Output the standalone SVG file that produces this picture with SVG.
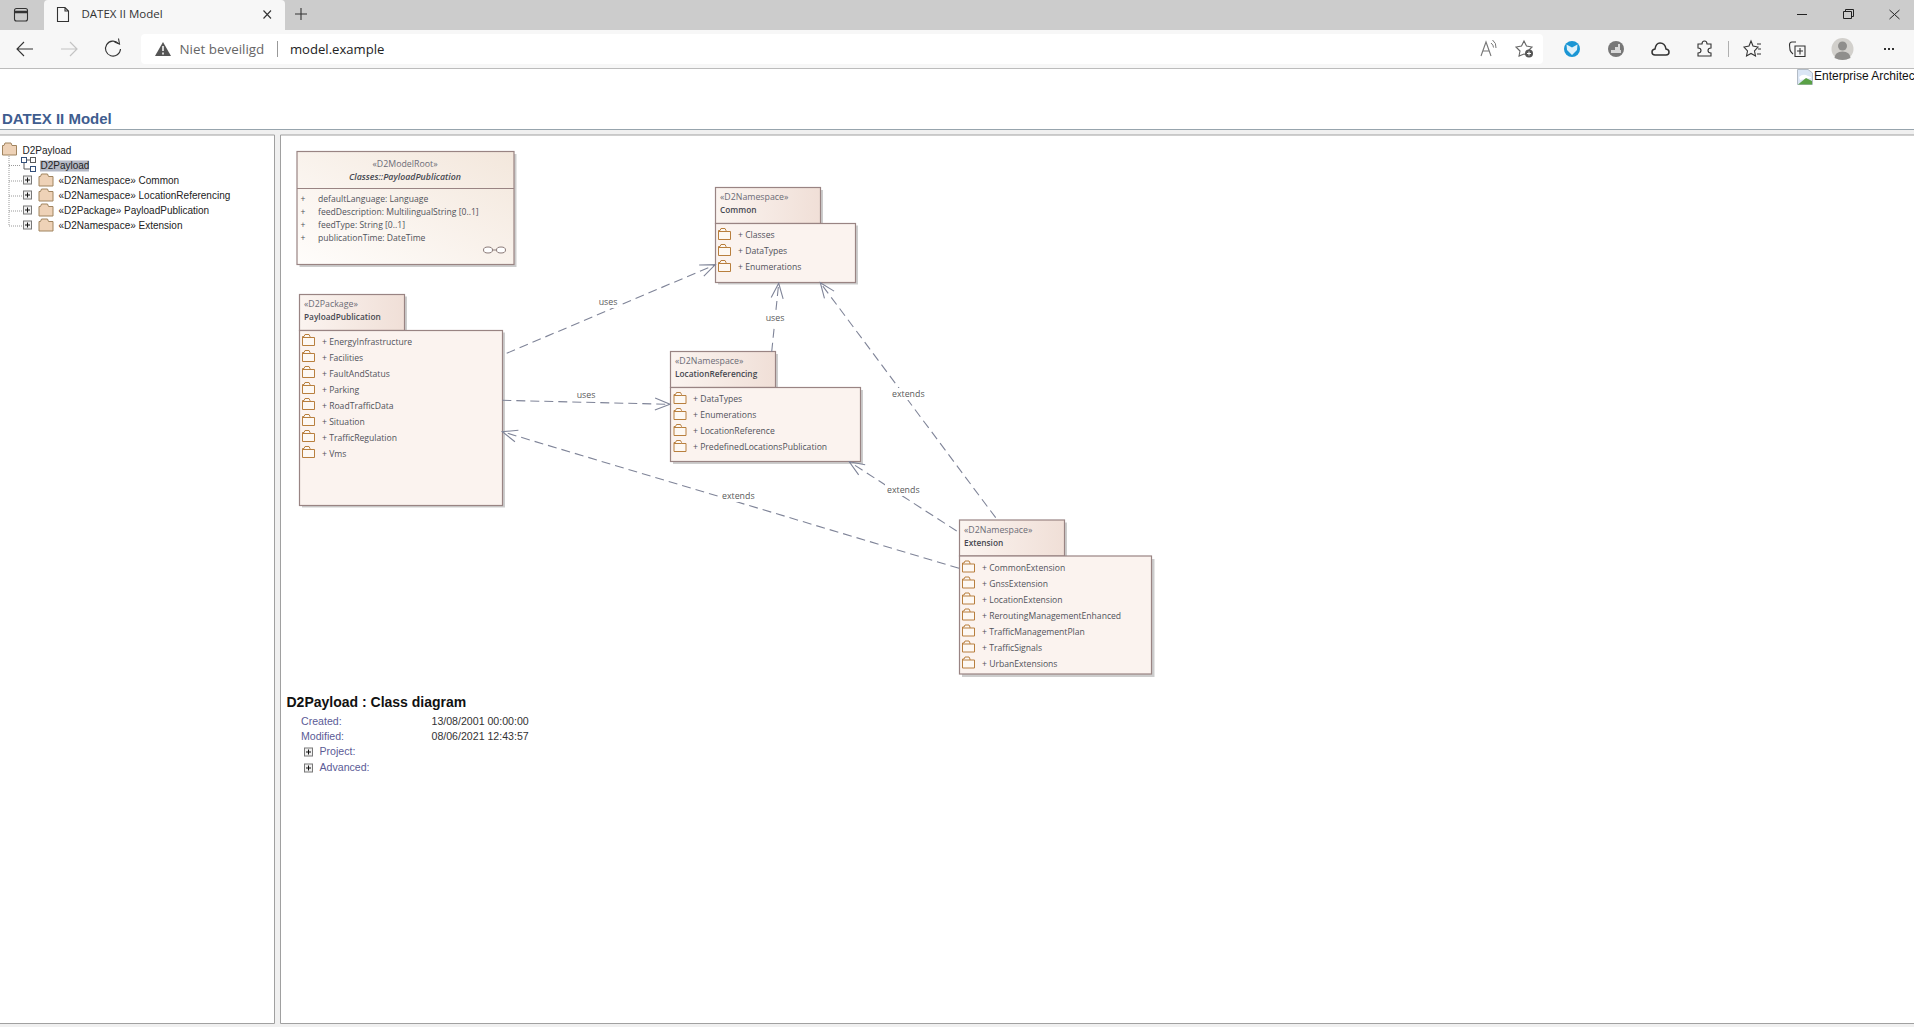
<svg xmlns="http://www.w3.org/2000/svg" xmlns:xlink="http://www.w3.org/1999/xlink" width="1914" height="1027" viewBox="0 0 1914 1027">
<style>
text{font-family:"Open Sans","Noto Sans","Liberation Sans",sans-serif;dominant-baseline:central}
.ea{font-size:8.6px;fill:#50525a}
.eab{font-size:8.3px;fill:#464850;font-weight:600}
.st{font-size:8.8px;fill:#6c6c76}
.lab{font-size:8.8px;fill:#5a5a5a}
.ar{font-family:"Liberation Sans",Arial,sans-serif}
.tree{font-family:"Liberation Sans",Arial,sans-serif;font-size:10px;fill:#222}
.meta{font-family:"Liberation Sans",Arial,sans-serif;font-size:10.6px;fill:#5b5b96}
.val{font-family:"Liberation Sans",Arial,sans-serif;font-size:10.6px;fill:#333}
.bd{stroke:#998483;stroke-width:1.2}
.sh{fill:#cdcdcd}
.body{fill:#fbf3ef}
.tab{fill:url(#gt)}
.cn{fill:none;stroke:#7f8498;stroke-width:1.1;stroke-dasharray:9 5;marker-end:url(#op)}
.ic{fill:none;stroke:#333;stroke-width:1.1}
</style>
<defs>
<linearGradient id="gt" x1="0" y1="0" x2="1" y2="0"><stop offset="0" stop-color="#fbf4f0"/><stop offset="1" stop-color="#f0dfd7"/></linearGradient>
<linearGradient id="gc" x1="0" y1="1" x2="1" y2="0"><stop offset="0" stop-color="#fffdfb"/><stop offset="1" stop-color="#f3e7dc"/></linearGradient>
<marker id="op" markerUnits="userSpaceOnUse" markerWidth="20" markerHeight="16" refX="16" refY="7" orient="auto"><path d="M1,1 L16,7 L1,13" fill="none" stroke="#7f8498" stroke-width="1.1"/></marker>
<g id="f"><path d="M0.5,11.5 V2.5 H2 L3,0.5 H7 L8,2.5 V3.5 H12.5 V11.5 Z M0.5,3.5 H8" fill="#fdf8f3" stroke="#b87f3e" stroke-width="1"/></g>
<g id="tf"><path d="M0.5,12.5 V3 H2 L3,0.5 H9 L10,3 H14.500 V12.5 Z" fill="#eed2b7" stroke="#a0845f" stroke-width="1"/></g>
<g id="px"><rect x="0.5" y="0.5" width="8" height="8" fill="#f0f0f0" stroke="#777"/><path d="M2,4.5 H7 M4.5,2 V7" stroke="#111"/></g>
</defs>

<g id="chrome">
<rect width="1914" height="1027" fill="#fff"/>
<rect width="1914" height="30" fill="#cccccc"/>
<rect x="0" y="30" width="1914" height="38" fill="#f7f7f7"/>
<rect y="68" width="1914" height="1" fill="#bcbcbc"/>
<path d="M44,30 V4 Q44,0 48,0 H281 Q285,0 285,4 V30 Z" fill="#f7f7f7"/>
<rect x="14.500" y="8.500" width="13" height="12.500" rx="2" class="ic"/><path d="M15,12 H27" class="ic" style="stroke-width:2.500"/>
<path d="M57.500,7.500 H65 L68.500,11 V21.500 H57.500 Z M65,7.500 V11 H68.500" class="ic"/>
<text x="81.500" y="13.500" style="font-size:11.500px;fill:#333">DATEX II Model</text>
<path d="M263.500,10.500 L271,18.500 M271,10.500 L263.500,18.500" class="ic"/>
<path d="M301,8 V20 M295,14 H307" class="ic"/>
<path d="M1797,14.500 H1807" stroke="#222" fill="none"/>
<path d="M1843.500,11.500 H1851.500 V18.500 H1843.500 Z M1845.500,11 V9.500 H1853.500 V16.500 H1852" fill="none" stroke="#222"/>
<path d="M1889.500,10 L1899.500,19 M1899.500,10 L1889.500,19" fill="none" stroke="#222"/>
<path d="M33,49 H17 M24,42 L17,49 L24,56" class="ic"/>
<path d="M77,49 H61 M70,42 L77,49 L70,56" fill="none" stroke="#c4c4c4" stroke-width="1.200"/>
<path d="M118.500,43.500 A7.500,7.500 0 1 0 120.500,49" class="ic"/><path d="M114.500,42 L119.500,44 L118.500,38.500" class="ic"/>
<rect x="141" y="34" width="1402" height="30" rx="4" fill="#fff"/>
<path d="M163,42 L171,56 H155 Z" fill="#555"/><path d="M163,46 V51 M163,52.500 V54.500" stroke="#fff" stroke-width="1.500"/>
<text x="179.500" y="48.500" style="font-size:13.400px;fill:#666">Niet beveiligd</text>
<rect x="277" y="41" width="1" height="16" fill="#999"/>
<text x="290" y="48.500" style="font-size:13.100px;fill:#222">model.example</text>
<path d="M1481,56 L1486,42 L1491,56 M1483,51 H1489" fill="none" stroke="#777" stroke-width="1.100"/><path d="M1491,43 Q1493.500,45 1493.500,47.500 M1492.500,40 Q1496.500,43 1496,48" fill="none" stroke="#777"/>
<path d="M1524,41 L1526.500,46 L1532,47 L1528,51 L1528.500,55 L1524,54 L1519,56 L1520,51 L1516,47 L1521.500,46 Z" fill="none" stroke="#666" stroke-width="1.100"/><circle cx="1529" cy="53.500" r="4" fill="#555"/><path d="M1527,53.500 H1531 M1529,51.500 V55.500" stroke="#fff"/>
<circle cx="1572" cy="49" r="8" fill="#1b96d4"/><path d="M1566.500,44.500 L1572,47.500 L1577.500,44.500 L1577,50 L1572,55 L1567,50 Z" fill="#dff1fa"/>
<circle cx="1616" cy="49" r="8" fill="#777"/><path d="M1611,50 H1621 V53 H1611 Z M1615,47 H1618 V50 H1615 Z M1618,44 H1620 V50 H1618 Z" fill="#d8d8d8"/>
<path d="M1655,55 Q1652,55 1652,52 Q1652,49.500 1655,49 Q1656,43 1660,43 Q1665,43 1666,49 Q1669,49.500 1669,52 Q1669,55 1666,55 Z" fill="none" stroke="#333" stroke-width="1.500"/>
<path d="M1698,44 H1702 Q1702,41 1704.500,41 Q1707,41 1707,44 H1711 V48 Q1708,48 1708,50.500 Q1708,53 1711,53 V56 H1698 V53 Q1701,53 1701,50.500 Q1701,48 1698,48 Z" class="ic"/>
<rect x="1728" y="41" width="1" height="16" fill="#b0b0b0"/>
<path d="M1751,41 L1753,46 L1758,47 L1754.500,51 L1755.500,56 L1751,53.500 L1746.500,56 L1747.500,51 L1744,47 L1749,46 Z M1757,44 H1761 M1758,49 H1761 M1757,54 H1761" class="ic"/>
<path d="M1796,42 H1792 Q1789.500,42 1789.500,45 L1790,50 Q1790.500,52 1793,54 M1795,46 H1805 V56.500 H1795 Z M1800,48 V54.500 M1797,51 H1803" class="ic"/>
<circle cx="1842.500" cy="49" r="11" fill="#d2d0cc"/><circle cx="1842.500" cy="46" r="4.500" fill="#8f8e8c"/><path d="M1834.500,58 Q1835,51.500 1842.500,51.500 Q1850,51.500 1850.500,58 Q1842.500,62 1834.500,58 Z" fill="#8f8e8c"/>
<path d="M1884,49 h2 M1888,49 h2 M1892,49 h2" stroke="#333" stroke-width="1.800"/>
</g>

<g id="page">
<rect x="0" y="129" width="1914" height="1" fill="#97a4ad"/>
<rect x="0" y="130" width="1914" height="897" fill="#f0f0f0"/>
<rect x="0" y="135" width="274" height="888" fill="#fff"/>
<rect x="281" y="135" width="1633" height="888" fill="#fff"/>
<path d="M0,135 H274.500 V1023.500 H0 M1914,135 H280.500 V1023.500 H1914" fill="none" stroke="#a0a0a0"/>
<text x="2" y="118" class="ar" style="font-size:15px;font-weight:bold;fill:#3f5d8f">DATEX II Model</text>
<path d="M1797.500,69.500 H1808 L1812.500,73 V84.500 H1797.500 Z" fill="#dbe6f5" stroke="#b3bcc6"/><path d="M1799,77 Q1803,73 1808,76 L1811,77 V78 L1800,80 Z" fill="#fff"/><path d="M1798,84.500 L1806,78 L1812,81 V84.500 Z" fill="#5aa146"/>
<text x="1814" y="76" class="ar" style="font-size:12px;fill:#111">Enterprise Architec</text>
</g>

<g id="tree">
<path d="M9,156 V226 M9,165.500 H21 M9,181 H24 M9,196 H24 M9,211 H24 M9,226 H24" fill="none" stroke="#999" stroke-dasharray="1 1"/>
<use xlink:href="#tf" href="#tf" x="2" y="142.500"/>
<text x="22.500" y="150.200" class="tree">D2Payload</text>
<g fill="#fff" stroke="#5a5a5a"><rect x="21.500" y="157.500" width="5" height="5" stroke="#33507a"/><rect x="30.500" y="157.500" width="5" height="5"/><rect x="30.500" y="166.500" width="5" height="5" stroke="#33507a"/><path d="M26.500,160 H30.500 M24,163 V169 H30.500" fill="none"/></g>
<rect x="40" y="160.500" width="49" height="11" fill="#b4b8c4"/>
<text x="40.500" y="165.500" class="tree">D2Payload</text>
<use xlink:href="#px" href="#px" x="23" y="175.500"/><use xlink:href="#tf" href="#tf" x="38.500" y="173.500"/><text x="58.500" y="180.300" class="tree">«D2Namespace» Common</text>
<use xlink:href="#px" href="#px" x="23" y="190.500"/><use xlink:href="#tf" href="#tf" x="38.500" y="188.500"/><text x="58.500" y="195.300" class="tree">«D2Namespace» LocationReferencing</text>
<use xlink:href="#px" href="#px" x="23" y="205.500"/><use xlink:href="#tf" href="#tf" x="38.500" y="203.500"/><text x="58.500" y="210.300" class="tree">«D2Package» PayloadPublication</text>
<use xlink:href="#px" href="#px" x="23" y="220.500"/><use xlink:href="#tf" href="#tf" x="38.500" y="218.500"/><text x="58.500" y="225.300" class="tree">«D2Namespace» Extension</text>
</g>

<g id="node-payload-class">
<rect x="299.500" y="154" width="217" height="113" class="sh"/>
<rect x="297" y="151.500" width="217" height="113" fill="url(#gc)" class="bd"/>
<path d="M297,188.500 H514" class="bd" fill="none"/>
<text x="405" y="163.500" text-anchor="middle" class="st">«D2ModelRoot»</text>
<text x="405" y="176.500" text-anchor="middle" class="eab" style="font-style:italic;font-size:8.800px">Classes::PayloadPublication</text>
<text x="300.500" y="198.700" class="ea">+</text><text x="318" y="198.700" class="ea">defaultLanguage: Language</text>
<text x="300.500" y="211.700" class="ea">+</text><text x="318" y="211.700" class="ea">feedDescription: MultilingualString [0..1]</text>
<text x="300.500" y="224.700" class="ea">+</text><text x="318" y="224.700" class="ea">feedType: String [0..1]</text>
<text x="300.500" y="237.700" class="ea">+</text><text x="318" y="237.700" class="ea">publicationTime: DateTime</text>
<path d="M483.500,250 a4.500,3 0 1 0 9,0 a4.500,3 0 1 0 -9,0 M492.500,250 h4 M496.500,250 a4.500,3 0 1 0 9,0 a4.500,3 0 1 0 -9,0" fill="#fff" stroke="#8a7a78"/>
</g>

<g id="node-payloadpublication">
<rect x="302" y="296.500" width="105" height="36" class="sh"/><rect x="302" y="332.500" width="203" height="175" class="sh"/>
<rect x="299.500" y="294.500" width="105" height="36" class="tab bd"/>
<rect x="299.500" y="330.500" width="203" height="175" class="body bd"/>
<text x="304" y="303.700" class="st">«D2Package»</text>
<text x="304" y="316.700" class="eab">PayloadPublication</text>
<use xlink:href="#f" href="#f" x="302" y="334"/><text x="322" y="341.700" class="ea">+ EnergyInfrastructure</text>
<use xlink:href="#f" href="#f" x="302" y="350"/><text x="322" y="357.700" class="ea">+ Facilities</text>
<use xlink:href="#f" href="#f" x="302" y="366"/><text x="322" y="373.700" class="ea">+ FaultAndStatus</text>
<use xlink:href="#f" href="#f" x="302" y="382"/><text x="322" y="389.700" class="ea">+ Parking</text>
<use xlink:href="#f" href="#f" x="302" y="398"/><text x="322" y="405.700" class="ea">+ RoadTrafficData</text>
<use xlink:href="#f" href="#f" x="302" y="414"/><text x="322" y="421.700" class="ea">+ Situation</text>
<use xlink:href="#f" href="#f" x="302" y="430"/><text x="322" y="437.700" class="ea">+ TrafficRegulation</text>
<use xlink:href="#f" href="#f" x="302" y="446"/><text x="322" y="453.700" class="ea">+ Vms</text>
</g>

<g id="node-common">
<rect x="718" y="190" width="105" height="36" class="sh"/><rect x="718" y="225.500" width="140" height="59" class="sh"/>
<rect x="715.500" y="187.500" width="105" height="36" class="tab bd"/>
<rect x="715.500" y="223.500" width="140" height="59" class="body bd"/>
<text x="720" y="196.700" class="st">«D2Namespace»</text>
<text x="720" y="209.700" class="eab">Common</text>
<use xlink:href="#f" href="#f" x="718" y="228"/><text x="738" y="234.700" class="ea">+ Classes</text>
<use xlink:href="#f" href="#f" x="718" y="244"/><text x="738" y="250.700" class="ea">+ DataTypes</text>
<use xlink:href="#f" href="#f" x="718" y="260"/><text x="738" y="266.700" class="ea">+ Enumerations</text>
</g>

<g id="node-locationreferencing">
<rect x="673" y="354" width="105" height="36" class="sh"/><rect x="673" y="390" width="190" height="74" class="sh"/>
<rect x="670.500" y="351.500" width="105" height="36" class="tab bd"/>
<rect x="670.500" y="387.500" width="190" height="74" class="body bd"/>
<text x="675" y="360.700" class="st">«D2Namespace»</text>
<text x="675" y="373.700" class="eab">LocationReferencing</text>
<use xlink:href="#f" href="#f" x="673.500" y="392"/><text x="693" y="398.700" class="ea">+ DataTypes</text>
<use xlink:href="#f" href="#f" x="673.500" y="408"/><text x="693" y="414.700" class="ea">+ Enumerations</text>
<use xlink:href="#f" href="#f" x="673.500" y="424"/><text x="693" y="430.700" class="ea">+ LocationReference</text>
<use xlink:href="#f" href="#f" x="673.500" y="440"/><text x="693" y="446.700" class="ea">+ PredefinedLocationsPublication</text>
</g>

<g id="node-extension">
<rect x="962" y="522.500" width="105" height="36" class="sh"/><rect x="962" y="559" width="192.500" height="118" class="sh"/>
<rect x="959.500" y="520" width="105" height="36" class="tab bd"/>
<rect x="959.500" y="556" width="192" height="118" class="body bd"/>
<text x="964" y="529.700" class="st">«D2Namespace»</text>
<text x="964" y="542.700" class="eab">Extension</text>
<use xlink:href="#f" href="#f" x="962" y="560.500"/><text x="982" y="567.700" class="ea">+ CommonExtension</text>
<use xlink:href="#f" href="#f" x="962" y="576.500"/><text x="982" y="583.700" class="ea">+ GnssExtension</text>
<use xlink:href="#f" href="#f" x="962" y="592.500"/><text x="982" y="599.700" class="ea">+ LocationExtension</text>
<use xlink:href="#f" href="#f" x="962" y="608.500"/><text x="982" y="615.700" class="ea">+ ReroutingManagementEnhanced</text>
<use xlink:href="#f" href="#f" x="962" y="624.500"/><text x="982" y="631.700" class="ea">+ TrafficManagementPlan</text>
<use xlink:href="#f" href="#f" x="962" y="640.500"/><text x="982" y="647.700" class="ea">+ TrafficSignals</text>
<use xlink:href="#f" href="#f" x="962" y="656.500"/><text x="982" y="663.700" class="ea">+ UrbanExtensions</text>
</g>

<g id="connectors">
<path class="cn" d="M506.700,353.300 L715.300,264.700"/>
<path class="cn" d="M502.300,400.300 L670,404.300"/>
<path class="cn" d="M959,568.300 L502.300,431.700"/>
<path class="cn" d="M771.700,351.700 L778.700,283.300"/>
<path class="cn" d="M995.700,517.700 L820.300,282.700"/>
<path class="cn" d="M956.700,531 L849.300,461.700"/>
<g fill="#fff">
<rect x="598" y="296" width="20" height="12"/><rect x="765" y="312" width="20" height="12"/>
<rect x="890" y="388" width="36" height="12"/><rect x="885" y="484" width="37" height="12"/><rect x="720" y="490" width="37" height="12"/>
</g>
<text x="608" y="301.700" text-anchor="middle" class="lab">uses</text>
<text x="586" y="394.700" text-anchor="middle" class="lab">uses</text>
<text x="775" y="317.700" text-anchor="middle" class="lab">uses</text>
<text x="738.300" y="495.500" text-anchor="middle" class="lab">extends</text>
<text x="908.300" y="393.700" text-anchor="middle" class="lab">extends</text>
<text x="903.300" y="489.500" text-anchor="middle" class="lab">extends</text>
</g>

<g id="details">
<text x="286.500" y="701.500" class="ar" style="font-size:14px;font-weight:bold;fill:#111">D2Payload : Class diagram</text>
<text x="301" y="720.500" class="meta">Created:</text><text x="431.500" y="720.500" class="val">13/08/2001 00:00:00</text>
<text x="301" y="735.500" class="meta">Modified:</text><text x="431.500" y="735.500" class="val">08/06/2021 12:43:57</text>
<use xlink:href="#px" href="#px" x="304" y="747.500"/><text x="319.500" y="750.700" class="meta">Project:</text>
<use xlink:href="#px" href="#px" x="304" y="763.500"/><text x="319.500" y="766.700" class="meta">Advanced:</text>
</g>
</svg>
